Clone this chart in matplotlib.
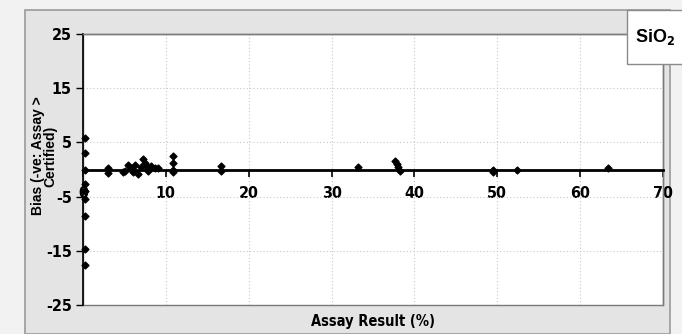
import matplotlib
matplotlib.use("Agg")
import matplotlib.pyplot as plt
import matplotlib.patches as mpatches

plt.rcParams["font.family"] = ["DejaVu Sans"]
plt.rcParams["font.stretch"] = "condensed"
plt.rcParams["font.weight"] = "bold"
plt.rcParams["axes.unicode_minus"] = False

# ── data ────────────────────────────────────────────────────
assay = [0.2, 0.2, 0.2, 0.2, 0.2, 0.2, 0.2, 0.2, 0.2,
         3.0, 3.0, 4.8, 5.1, 5.4, 5.8, 6.0, 6.3, 6.6, 7.0,
         7.3, 7.5, 7.7, 7.8, 8.2, 8.7, 9.0,
         10.9, 10.9, 10.9, 10.9, 16.7, 16.7,
         33.2, 37.7, 37.9, 38.0, 38.2, 49.5, 49.5, 52.4, 63.4]
bias = [5.8, 3.1, 0.0, -2.7, -3.9, -5.5, -8.6, -14.6, -17.6,
        0.3, -0.6, -0.5, -0.2, 0.8, 0.3, -0.4, 0.8, -0.8, 0.4,
        1.9, 1.2, 0.5, -0.2, 0.6, 0.3, 0.2,
        2.5, 1.2, 0.0, -0.5, 0.6, -0.3,
        0.4, 1.6, 1.1, 0.5, -0.3, 0.0, -0.5, 0.0, 0.2]

x_ticks = [0, 10, 20, 30, 40, 50, 60, 70]
y_ticks = [-25, -15, -5, 5, 15, 25]

# ── canvas ─────────────────────────────────────────────────
fig = plt.figure(figsize=(6.82, 3.34), dpi=100)
fig.patch.set_facecolor("#f2f2f2")

# chart area frame (grey background behind the plot)
frame = mpatches.Rectangle((25 / 682, 0), 645 / 682, 1 - 10 / 334,
                           transform=fig.transFigure, facecolor="#e4e4e4",
                           edgecolor="#9a9a9a", linewidth=1.2, zorder=-5)
fig.patches.append(frame)

ax = fig.add_axes([83 / 682, 1 - 305 / 334, 580 / 682, 271 / 334])
ax.set_zorder(2)
ax.set_facecolor("white")
ax.set_xlim(0, 70)
ax.set_ylim(-25, 25)

ax.scatter(assay, bias, marker="D", s=12, color="black", zorder=4, clip_on=False)

# axes: x axis crosses at y = 0
ax.spines["bottom"].set_position(("data", 0))
ax.spines["bottom"].set_linewidth(2.0)
ax.spines["bottom"].set_color("black")
ax.spines["left"].set_linewidth(1.2)
for s in ("top", "right"):
    ax.spines[s].set_color("#7a7a7a")
    ax.spines[s].set_linewidth(1.0)
ax.add_patch(mpatches.Rectangle((0, 0), 1, 1, transform=ax.transAxes, fill=False,
                                edgecolor="#7a7a7a", linewidth=1.0, zorder=1,
                                clip_on=False))

ax.set_xticks(x_ticks)
ax.set_yticks(y_ticks)
ax.tick_params(axis="x", direction="out", length=5, width=1.2, pad=7, labelsize=11.5)
ax.tick_params(axis="y", direction="out", length=5, width=1.0, pad=3, labelsize=11.5)
ax.grid(True, linestyle=(0, (1, 2)), color="#c8c8c8", linewidth=0.8, zorder=0)
ax.set_axisbelow(True)

ax.set_xlabel("Assay Result (%)", fontsize=10.5, fontweight="bold")
ax.xaxis.set_label_coords(0.5, -0.035)
ax.set_ylabel("Bias (-ve: Assay >\nCertified)", fontsize=10, fontweight="bold",
              family=["Liberation Sans", "DejaVu Sans"], stretch="normal",
              linespacing=0.85)
ax.yaxis.set_label_coords(-0.045, 0.55)

# component label box
fig.patches.append(mpatches.Rectangle((627 / 682, 1 - 64 / 334), 60 / 682, 54 / 334,
                                      transform=fig.transFigure, facecolor="white",
                                      edgecolor="#8a8a8a", linewidth=1.0, zorder=5))
fig.text(655 / 682, 1 - 37 / 334, "SiO$_2$", ha="center", va="center",
         fontsize=13, fontweight="bold", family=["Liberation Sans", "DejaVu Sans"],
         stretch="normal", zorder=10)

plt.savefig("out.png", dpi=100, facecolor=fig.get_facecolor())
